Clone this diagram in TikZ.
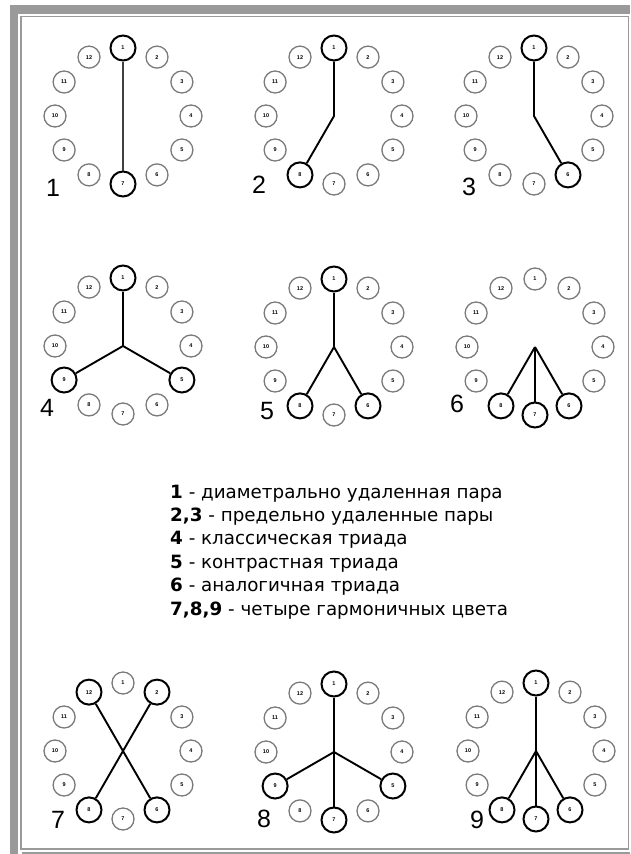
\documentclass[tikz,border=0pt]{standalone}
\usepackage{fontspec}
\setmainfont{Liberation Sans}
\newfontfamily\txtfont{DejaVu Sans}
\usepackage{graphicx}
\definecolor{framegray}{HTML}{9A9A9A}
\definecolor{ringgray}{HTML}{7A7A7A}
\tikzset{
  normc/.style={circle, draw=ringgray, line width=1.3pt, minimum size=22pt, inner sep=0pt,
    font=\fontsize{5.5}{6}\selectfont\bfseries},
  boldc/.style={circle, draw=black, line width=2pt, minimum size=25pt, inner sep=0pt,
    font=\fontsize{5.5}{6}\selectfont\bfseries},
  link/.style={line width=1.9pt, black},
  link1/.style={line width=1.9pt, black!75},
  numlabel/.style={font=\fontsize{25}{25}\selectfont, inner sep=0pt},
  legend/.style={font=\txtfont\fontsize{18.3}{20}\selectfont, anchor=base west, inner sep=0pt}
}
\makeatletter
\newcommand\clockface[4]{%
  \coordinate (#1-c) at (#2,#3);
  \foreach \k in {1,...,12}{%
    \edef\clktest{\noexpand\in@{,\k,}{,#4,}}\clktest
    \ifin@\def\clkst{boldc}\else\def\clkst{normc}\fi
    \node[\clkst] (#1-\k) at ({#2+68*sin(30*(\k-1))},{#3-68*cos(30*(\k-1))}) {\k};
  }%
}
\makeatother
\begin{document}
\begin{tikzpicture}[x=1pt,y=-1pt]
\useasboundingbox (0,0) rectangle (630,854);
% frame
\fill[framegray] (10,5) rectangle (630,14);
\fill[framegray] (10,5) rectangle (18,854);
\fill[framegray] (22,851.5) rectangle (630,854);
\draw[framegray, line width=1.4pt] (21,16.5) rectangle (628.5,849);
% clocks
\clockface{d1}{123}{116}{1,7}
\clockface{d2}{334}{116}{1,8}
\clockface{d3}{534}{116}{1,6}
\clockface{d4}{123}{346}{1,5,9}
\clockface{d5}{334}{347}{1,6,8}
\clockface{d6}{535}{347}{6,7,8}
\clockface{d7}{123}{751}{12,2,6,8}
\clockface{d8}{334}{752}{1,5,7,9}
\clockface{d9}{536}{751}{1,6,7,8}
% connectors
\draw[link1] (d1-1) -- (d1-7);
\draw[link] (d2-1) -- (d2-c) -- (d2-8);
\draw[link] (d3-1) -- (d3-c) -- (d3-6);
\draw[link] (d4-c) -- (d4-1);
\draw[link] (d4-c) -- (d4-5);
\draw[link] (d4-c) -- (d4-9);
\draw[link] (d5-1) -- (d5-c);
\draw[link] (d5-c) -- (d5-6);
\draw[link] (d5-c) -- (d5-8);
\draw[link] (d6-c) -- (d6-6);
\draw[link] (d6-c) -- (d6-7);
\draw[link] (d6-c) -- (d6-8);
\draw[link] (d7-12) -- (d7-6);
\draw[link] (d7-2) -- (d7-8);
\draw[link] (d8-1) -- (d8-7);
\draw[link] (d8-c) -- (d8-5);
\draw[link] (d8-c) -- (d8-9);
\draw[link] (d9-1) -- (d9-c);
\draw[link] (d9-c) -- (d9-6);
\draw[link] (d9-c) -- (d9-7);
\draw[link] (d9-c) -- (d9-8);
% diagram numbers
\node[numlabel] (n1) at (53,188) {1};
\node[numlabel] (n2) at (259,185) {2};
\node[numlabel] (n3) at (469,187) {3};
\node[numlabel] (n4) at (47,408) {4};
\node[numlabel] (n5) at (267,411) {5};
\node[numlabel] (n6) at (457,404) {6};
\node[numlabel] (n7) at (58,820) {7};
\node[numlabel] (n8) at (264,819) {8};
\node[numlabel] (n9) at (477,820) {9};
% legend
\node[legend] (l1) at (170,498) {\textbf{1} - диаметрально удаленная пара};
\node[legend] (l2) at (170,521.4) {\textbf{2,3} - предельно удаленные пары};
\node[legend] (l3) at (170,544.8) {\textbf{4} - классическая триада};
\node[legend] (l4) at (170,568.2) {\textbf{5} - контрастная триада};
\node[legend] (l5) at (170,591.6) {\textbf{6} - аналогичная триада};
\node[legend] (l6) at (170,615) {\textbf{7,8,9} - четыре гармоничных цвета};
\end{tikzpicture}
\end{document}
